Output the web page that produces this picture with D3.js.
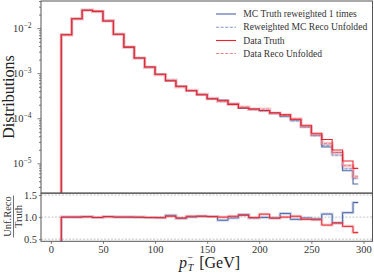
<!DOCTYPE html>
<html><head><meta charset="utf-8">
<script src="https://cdn.jsdelivr.net/npm/d3@7"></script>
<style>body{margin:0;background:#fff} svg{display:block}</style>
</head><body>
<svg id="c" width="374" height="275"></svg>
<script>
// ---------- data ----------
const binEdges = [10,20,30,40,50,60,70,80,90,100,110,120,130,140,150,160,170,180,190,200,210,220,230,240,250,260,270,280,290,295];
const dataTruth = [7.15e-3,1.62e-2,2.49e-2,2.36e-2,1.44e-2,7.3e-3,3.8e-3,2.17e-3,1.37e-3,9.46e-4,6.82e-4,5.12e-4,4.09e-4,3.33e-4,2.72e-4,2.45e-4,2.04e-4,1.69e-4,1.61e-4,1.49e-4,1.33e-4,1.19e-4,9.5e-5,6.98e-5,4.64e-5,3.38e-5,1.98e-5,1.13e-5,7.76e-6];
const dataUnfolded = [7.15e-3,1.62e-2,2.51e-2,2.34e-2,1.455e-2,7.3e-3,3.8e-3,2.16e-3,1.356e-3,9.32e-4,6.96e-4,5.02e-4,4.17e-4,3.40e-4,2.75e-4,2.45e-4,2.08e-4,1.76e-4,1.59e-4,1.59e-4,1.30e-4,1.19e-4,9.69e-5,6.63e-5,4.36e-5,2.77e-5,1.72e-5,8.93e-6,5.04e-6];
const mcTruth = [7.15e-3,1.62e-2,2.49e-2,2.36e-2,1.44e-2,7.3e-3,3.8e-3,2.17e-3,1.37e-3,9.46e-4,6.72e-4,5.15e-4,4.09e-4,3.33e-4,2.70e-4,2.55e-4,2.06e-4,1.66e-4,1.60e-4,1.47e-4,1.30e-4,1.08e-4,9.2e-5,6.5e-5,4.26e-5,2.31e-5,1.74e-5,6.87e-6,3.48e-6];
const mcUnfolded = [7.15e-3,1.62e-2,2.51e-2,2.34e-2,1.455e-2,7.3e-3,3.8e-3,2.17e-3,1.356e-3,9.37e-4,6.99e-4,5.0e-4,4.09e-4,3.40e-4,2.73e-4,2.37e-4,2.02e-4,1.76e-4,1.57e-4,1.46e-4,1.27e-4,1.17e-4,8.74e-5,6.37e-5,4.09e-5,2.47e-5,1.51e-5,7.56e-6,4.63e-6];
const xTicks = [0,50,100,150,200,250,300];
const yMainTicks = [1e-5,1e-4,1e-3,1e-2];
const yMainExponents = ["\u22125","\u22124","\u22123","\u22122"];
const yRatioTicks = [0.5,1.0,1.5];
const yRatioTickLabels = ["0.5","1.0","1.5"];
const legendLabels = ["MC Truth reweighted 1 times","Reweighted MC Reco Unfolded","Data Truth","Data Reco Unfolded"];

// ---------- layout ----------
const L=41, R=372.5, T=1, Mb=193, Rt=193.3, Rb=241.3;
const blue="#4a64a4", red="#e8232b", blueLight="#8497c8", redLight="#f2828a";
const serif="'Liberation Serif','DejaVu Serif',serif";

const x = d3.scaleLinear().domain([-9.5,308.7]).range([L,R]);
const y = d3.scaleLog().domain([2.2e-6,0.04]).range([Mb,T]);
const yr = d3.scaleLinear().domain([0.452,1.539]).range([Rb,Rt]);

const svg = d3.select('#c');
const defs = svg.append('defs');
defs.append('clipPath').attr('id','cm').append('rect').attr('x',L).attr('y',T).attr('width',R-L).attr('height',Mb-T);
defs.append('clipPath').attr('id','cr').append('rect').attr('x',L).attr('y',Rt).attr('width',R-L).attr('height',Rb-Rt);

function stepPts(vals, floor){
  const pts=[[binEdges[0],floor]];
  vals.forEach((v,i)=>pts.push([binEdges[i],v]));
  pts.push([binEdges[binEdges.length-1], vals[vals.length-1]]);
  return pts;
}
const lineMain = d3.line().x(d=>x(d[0])).y(d=>y(d[1])).curve(d3.curveStepAfter);
const lineRatio = d3.line().x(d=>x(d[0])).y(d=>yr(d[1])).curve(d3.curveStepAfter);

// ---------- main panel ----------
const gm = svg.append('g').attr('clip-path','url(#cm)');
function band(g, gen, pts, col, w, op){ g.append('path').attr('d',gen(pts)).attr('fill','none').attr('stroke',col).attr('stroke-width',w).attr('stroke-opacity',op); }
function dashed(g, gen, pts, col){ g.append('path').attr('d',gen(pts)).attr('fill','none').attr('stroke',col).attr('stroke-width',1).attr('stroke-dasharray','3,1.6'); }
function solid(g, gen, pts, col, w){ g.append('path').attr('d',gen(pts)).attr('fill','none').attr('stroke',col).attr('stroke-width',w||1.1); }

band(gm, lineMain, stepPts(mcUnfolded,1e-7), blueLight, 2.6, 0.3);
dashed(gm, lineMain, stepPts(mcUnfolded,1e-7), blueLight);
solid(gm, lineMain, stepPts(mcTruth,1e-7), blue);
band(gm, lineMain, stepPts(dataUnfolded,1e-7), redLight, 3.4, 0.45);
dashed(gm, lineMain, stepPts(dataUnfolded,1e-7), redLight);
solid(gm, lineMain, stepPts(dataTruth,1e-7), red);

// ---------- ratio panel ----------
const gr = svg.append('g');
gr.selectAll('line.grid').data(yRatioTicks).enter().append('line')
  .attr('x1',L).attr('x2',R).attr('y1',d=>yr(d)).attr('y2',d=>yr(d))
  .attr('stroke','#b8b8b8').attr('stroke-width',0.8).attr('stroke-dasharray','2,1.5');
const grc = gr.append('g').attr('clip-path','url(#cr)');
const ratioMC = mcUnfolded.map((v,i)=>v/mcTruth[i]);
const ratioData = dataUnfolded.map((v,i)=>v/dataTruth[i]);
band(grc, lineRatio, stepPts(ratioMC,0), blueLight, 3, 0.35);
solid(grc, lineRatio, stepPts(ratioMC,0), blue, 1);
band(grc, lineRatio, stepPts(ratioData,0), redLight, 3, 0.4);
solid(grc, lineRatio, stepPts(ratioData,0), red, 1);

// ---------- axes ----------
const axCol="#555", txtCol="#333";
function styleAxis(g){ g.select('.domain').remove(); g.selectAll('.tick line').attr('stroke',axCol).attr('stroke-width',0.8);
  g.selectAll('.tick text').attr('fill',txtCol).attr('font-family',serif); }

const gx = svg.append('g').attr('transform',`translate(0,${Rb})`)
  .call(d3.axisBottom(x).tickValues(xTicks).tickSize(2.5).tickPadding(2).tickFormat(d3.format('d')));
styleAxis(gx); gx.selectAll('.tick text').attr('font-size',10.5);

const gy = svg.append('g').attr('transform',`translate(${L},0)`)
  .call(d3.axisLeft(y).tickValues(yMainTicks).tickSize(3.5).tickPadding(6).tickFormat(()=>''));
styleAxis(gy);
gy.selectAll('.tick text').each(function(d,i){
  const t=d3.select(this); t.text('').attr('font-size',10.5);
  t.append('tspan').text('10');
  t.append('tspan').attr('dy',-4).attr('font-size',7.5).text(yMainExponents[i]);
});
const minors = y.ticks().filter(v=>!yMainTicks.some(m=>Math.abs(m-v)/m<1e-6));
const gym = svg.append('g').attr('transform',`translate(${L},0)`)
  .call(d3.axisLeft(y).tickValues(minors).tickSize(2).tickFormat(()=>''));
styleAxis(gym);

const gyr = svg.append('g').attr('transform',`translate(${L},0)`)
  .call(d3.axisLeft(yr).tickValues(yRatioTicks).tickSize(2).tickPadding(2).tickFormat((d,i)=>yRatioTickLabels[i]));
styleAxis(gyr); gyr.selectAll('.tick text').attr('font-size',10.5);

svg.append('rect').attr('x',L).attr('y',T).attr('width',R-L).attr('height',Mb-T)
  .attr('fill','none').attr('stroke',axCol).attr('stroke-width',1);
svg.append('rect').attr('x',L).attr('y',Rt).attr('width',R-L).attr('height',Rb-Rt)
  .attr('fill','none').attr('stroke',axCol).attr('stroke-width',1);

// ---------- labels ----------
svg.append('text').attr('transform',`translate(14,97) rotate(-90)`).attr('text-anchor','middle')
  .attr('font-family',serif).attr('font-size',16).attr('fill','#222').text('Distributions');

const fr = svg.append('g').attr('transform',`translate(13.5,216.5) rotate(-90)`);
fr.append('text').attr('x',0).attr('y',-2.6).attr('text-anchor','middle').attr('font-family',serif).attr('font-size',10.5).attr('fill','#333').text('Unf.Reco');
fr.append('line').attr('x1',-21).attr('x2',21).attr('y1',0).attr('y2',0).attr('stroke','#333').attr('stroke-width',0.7);
fr.append('text').attr('x',0).attr('y',8.6).attr('text-anchor','middle').attr('font-family',serif).attr('font-size',10.5).attr('fill','#333').text('Truth');

const xl = svg.append('text').attr('x',179).attr('y',268).attr('font-family',serif).attr('font-size',16).attr('fill','#222');
xl.append('tspan').attr('font-style','italic').text('p');
xl.append('tspan').attr('dy',-7).attr('dx',0.5).attr('font-size',10).text('\u2212');
xl.append('tspan').attr('dy',10).attr('dx',-5.5).attr('font-size',10).attr('font-style','italic').text('T');
xl.append('tspan').attr('dy',-3).attr('dx',6).text('[GeV]');

// ---------- legend ----------
const legRows=[14,27.2,40.5,53.5];
const legStyles=[{c:blue,d:null},{c:blueLight,d:'3,1.6'},{c:red,d:null},{c:redLight,d:'3,1.6'}];
const lg = svg.append('g');
legendLabels.forEach((lab,i)=>{
  const ln = lg.append('line').attr('x1',216).attr('x2',236).attr('y1',legRows[i]).attr('y2',legRows[i])
    .attr('stroke',legStyles[i].c).attr('stroke-width',1.1);
  if(legStyles[i].d) ln.attr('stroke-dasharray',legStyles[i].d);
  lg.append('text').attr('x',243.3).attr('y',legRows[i]).attr('dy','0.33em')
    .attr('font-family',serif).attr('font-size',9.6).attr('fill','#333').text(lab);
});
</script>
</body></html>
